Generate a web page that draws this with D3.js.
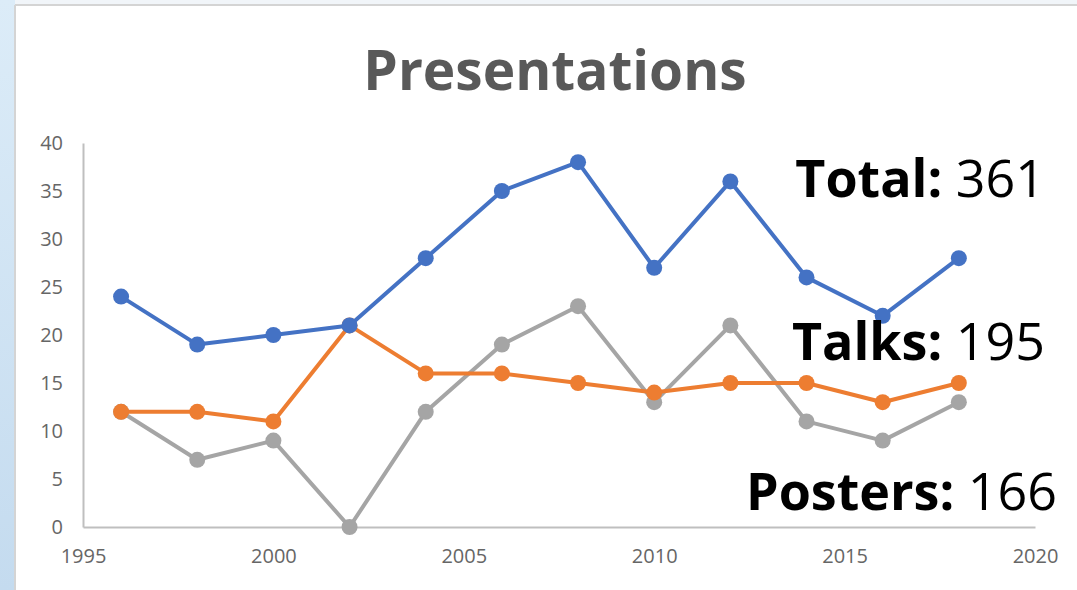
<!DOCTYPE html>
<html>
<head>
<meta charset="utf-8">
<script src="https://cdn.jsdelivr.net/npm/d3@7"></script>
<style>
  body { margin: 0; background: #fff; }
  svg { display: block; }
</style>
</head>
<body>
<div id="chart"></div>
<script>
// chart values
var years = [1996, 1998, 2000, 2002, 2004, 2006, 2008, 2010, 2012, 2014, 2016, 2018];
var totalCounts = [24, 19, 20, 21, 28, 35, 38, 27, 36, 26, 22, 28];
var talkCounts = [12, 12, 11, 21, 16, 16, 15, 14, 15, 15, 13, 15];
var posterCounts = [12, 7, 9, 0, 12, 19, 23, 13, 21, 11, 9, 13];
var yTicks = [0, 5, 10, 15, 20, 25, 30, 35, 40];
var xTicks = [1995, 2000, 2005, 2010, 2015, 2020];
var seriesNames = ["Total", "Talks", "Posters"];
var seriesColors = ["#4472C4", "#ED7D31", "#A5A5A5"];
var summary = [["Total:", " 361"], ["Talks:", " 195"], ["Posters:", " 166"]];

var width = 1077, height = 590;
var fontFam = "'Open Sans', 'Noto Sans', sans-serif";

var svg = d3.select("#chart").append("svg")
    .attr("width", width)
    .attr("height", height);

// slide background bits
var grad = svg.append("defs").append("linearGradient")
    .attr("id", "leftStrip").attr("x1", 0).attr("y1", 0).attr("x2", 0).attr("y2", 1);
grad.append("stop").attr("offset", "0%").attr("stop-color", "#dcecf8");
grad.append("stop").attr("offset", "100%").attr("stop-color", "#c4dbef");

svg.append("rect").attr("x", 0).attr("y", 0).attr("width", width).attr("height", 5)
    .attr("fill", "#f1f5f9");
svg.append("rect").attr("x", 0).attr("y", 0).attr("width", 15).attr("height", height)
    .attr("fill", "url(#leftStrip)");
svg.append("line").attr("x1", 15).attr("x2", width).attr("y1", 5).attr("y2", 5)
    .attr("stroke", "#d4d4d4").attr("stroke-width", 2);
svg.append("line").attr("x1", 15).attr("x2", 15).attr("y1", 5).attr("y2", height)
    .attr("stroke", "#d4d4d4").attr("stroke-width", 2);

var x = d3.scaleLinear().domain([1995, 2020]).range([83, 1035]);
var y = d3.scaleLinear().domain([0, 40]).range([527, 143]);

// title
svg.append("text")
    .attr("x", 555).attr("y", 90)
    .attr("text-anchor", "middle")
    .style("font-family", fontFam)
    .style("font-weight", "bold")
    .style("font-size", "55px")
    .style("fill", "#595959")
    .text("Presentations");

// axes
var yAxis = d3.axisLeft(y).tickValues(yTicks).tickSize(0).tickPadding(20);
var gy = svg.append("g").attr("transform", "translate(83,0)").call(yAxis);
gy.select(".domain").attr("stroke", "#bfbfbf").attr("stroke-width", 2);
gy.selectAll("text")
    .style("font-family", fontFam).style("font-size", "20px").style("fill", "#666");

var xAxis = d3.axisBottom(x).tickValues(xTicks).tickFormat(d3.format("d")).tickSize(0).tickPadding(22);
var gx = svg.append("g").attr("transform", "translate(0,527)").call(xAxis);
gx.select(".domain").attr("stroke", "#bfbfbf").attr("stroke-width", 2);
gx.selectAll("text")
    .style("font-family", fontFam).style("font-size", "20px").style("fill", "#666");

// series
var allSeries = [totalCounts, talkCounts, posterCounts];
var line = d3.line()
    .x(function(d, i) { return x(years[i]); })
    .y(function(d) { return y(d); });

// draw posters first, then talks, then total on top
[2, 1, 0].forEach(function(s) {
    var g = svg.append("g").attr("class", "series-" + seriesNames[s]);
    g.append("path")
        .datum(allSeries[s])
        .attr("d", line)
        .attr("fill", "none")
        .attr("stroke", seriesColors[s])
        .attr("stroke-width", 4)
        .attr("stroke-linejoin", "round");
    g.selectAll("circle")
        .data(allSeries[s])
        .join("circle")
        .attr("cx", function(d, i) { return x(years[i]); })
        .attr("cy", function(d) { return y(d); })
        .attr("r", 8)
        .attr("fill", seriesColors[s]);
});

// summary labels
var labelPos = [[1045, 197], [1045, 360], [1057, 510]];
summary.forEach(function(s, i) {
    var t = svg.append("text")
        .attr("x", labelPos[i][0]).attr("y", labelPos[i][1])
        .attr("text-anchor", "end")
        .style("font-family", fontFam)
        .style("font-size", "52px")
        .style("fill", "#000");
    t.append("tspan").style("font-weight", "bold").text(s[0]);
    t.append("tspan").text(s[1]);
});
</script>
</body>
</html>
